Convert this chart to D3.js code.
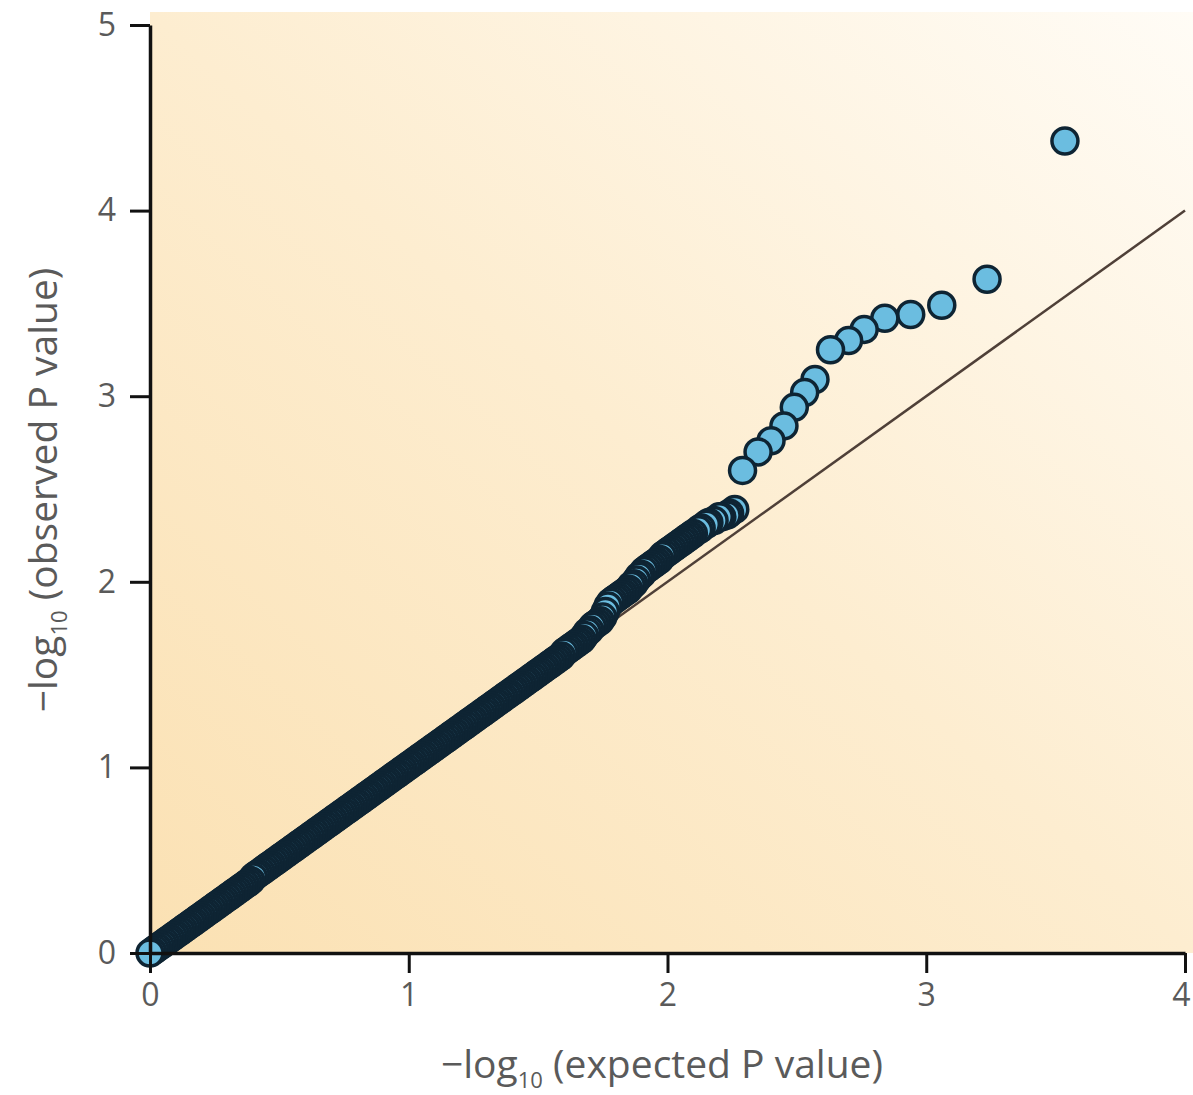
<!doctype html>
<html>
  <head>
    <meta charset="utf-8">
    <title>QQ plot</title>
    <script src="https://cdnjs.cloudflare.com/ajax/libs/d3/7.8.5/d3.min.js"></script>
    <style>
      body { margin: 0; background: #fff; }
      text { font-family: "Open Sans", "DejaVu Sans", sans-serif; }
    </style>
  </head>
  <body>
    <div id="root"></div>
    <script>
      // dense part of the QQ band
      let bulkExpected = [
        0.00, 0.01, 0.02, 0.03, 0.04, 0.05, 0.06, 0.07, 0.08, 0.09,
        0.10, 0.11, 0.12, 0.13, 0.14, 0.15, 0.16, 0.17, 0.18, 0.19,
        0.20, 0.21, 0.22, 0.23, 0.24, 0.25, 0.26, 0.27, 0.28, 0.29,
        0.30, 0.31, 0.32, 0.33, 0.34, 0.35, 0.36, 0.37, 0.38, 0.39,
        0.40, 0.41, 0.42, 0.43, 0.44, 0.45, 0.46, 0.47, 0.48, 0.49,
        0.50, 0.51, 0.52, 0.53, 0.54, 0.55, 0.56, 0.57, 0.58, 0.59,
        0.60, 0.61, 0.62, 0.63, 0.64, 0.65, 0.66, 0.67, 0.68, 0.69,
        0.70, 0.71, 0.72, 0.73, 0.74, 0.75, 0.76, 0.77, 0.78, 0.79,
        0.80, 0.81, 0.82, 0.83, 0.84, 0.85, 0.86, 0.87, 0.88, 0.89,
        0.90, 0.91, 0.92, 0.93, 0.94, 0.95, 0.96, 0.97, 0.98, 0.99,
        1.00, 1.01, 1.02, 1.03, 1.04, 1.05, 1.06, 1.07, 1.08, 1.09,
        1.10, 1.11, 1.12, 1.13, 1.14, 1.15, 1.16, 1.17, 1.18, 1.19,
        1.20, 1.21, 1.22, 1.23, 1.24, 1.25, 1.26, 1.27, 1.28, 1.29,
        1.30, 1.31, 1.32, 1.33, 1.34, 1.35, 1.36, 1.37, 1.38, 1.39,
        1.40, 1.41, 1.42, 1.43, 1.44, 1.45, 1.46, 1.47, 1.48, 1.49,
        1.50, 1.51, 1.52, 1.53, 1.54, 1.55, 1.56, 1.57, 1.58, 1.59,
        1.60, 1.61, 1.62, 1.63, 1.64, 1.65, 1.66, 1.67, 1.68, 1.69,
        1.70
      ];
      let bulkObserved = [
        0.00, 0.01, 0.02, 0.03, 0.04, 0.05, 0.06, 0.07, 0.08, 0.09,
        0.10, 0.11, 0.12, 0.13, 0.14, 0.15, 0.16, 0.17, 0.18, 0.19,
        0.20, 0.21, 0.22, 0.23, 0.24, 0.25, 0.26, 0.27, 0.28, 0.29,
        0.30, 0.31, 0.32, 0.33, 0.34, 0.35, 0.36, 0.37, 0.38, 0.39,
        0.41, 0.42, 0.43, 0.44, 0.45, 0.46, 0.47, 0.48, 0.49, 0.50,
        0.51, 0.52, 0.53, 0.54, 0.55, 0.56, 0.57, 0.58, 0.59, 0.60,
        0.61, 0.62, 0.63, 0.64, 0.65, 0.66, 0.67, 0.68, 0.69, 0.70,
        0.71, 0.72, 0.73, 0.74, 0.75, 0.76, 0.77, 0.78, 0.79, 0.80,
        0.81, 0.82, 0.83, 0.84, 0.85, 0.86, 0.87, 0.88, 0.89, 0.90,
        0.91, 0.92, 0.93, 0.94, 0.95, 0.96, 0.97, 0.98, 0.99, 1.00,
        1.01, 1.02, 1.03, 1.04, 1.05, 1.06, 1.07, 1.08, 1.09, 1.10,
        1.11, 1.12, 1.13, 1.14, 1.15, 1.16, 1.17, 1.18, 1.19, 1.20,
        1.21, 1.22, 1.23, 1.24, 1.25, 1.26, 1.27, 1.28, 1.29, 1.30,
        1.31, 1.32, 1.33, 1.34, 1.35, 1.36, 1.37, 1.38, 1.39, 1.40,
        1.41, 1.42, 1.43, 1.44, 1.45, 1.46, 1.47, 1.48, 1.49, 1.50,
        1.51, 1.52, 1.53, 1.54, 1.55, 1.56, 1.57, 1.58, 1.59, 1.60,
        1.62, 1.63, 1.64, 1.65, 1.66, 1.67, 1.68, 1.69, 1.71, 1.73,
        1.74
      ];

      // upper tail, where points start to separate
      let tailExpected = [
        1.71, 1.72, 1.73, 1.74, 1.75, 1.76, 1.77, 1.78, 1.79, 1.80,
        1.81, 1.82, 1.83, 1.84, 1.85, 1.86, 1.87, 1.88, 1.89, 1.90,
        1.91, 1.92, 1.93, 1.94, 1.95, 1.96, 1.97, 1.98, 1.99, 2.00,
        2.01, 2.02, 2.03, 2.04, 2.05, 2.06, 2.07, 2.08, 2.09, 2.10,
        2.12, 2.13, 2.15, 2.16, 2.18, 2.20, 2.21, 2.23, 2.24, 2.26,
        2.29, 2.35, 2.40, 2.45, 2.49, 2.53, 2.57, 2.63, 2.70, 2.76,
        2.84, 2.94, 3.06, 3.235, 3.536
      ];
      let tailObserved = [
        1.76, 1.77, 1.78, 1.79, 1.81, 1.84, 1.87, 1.89, 1.90, 1.91,
        1.92, 1.93, 1.94, 1.95, 1.96, 1.98, 1.99, 2.01, 2.03, 2.04,
        2.06, 2.07, 2.08, 2.09, 2.10, 2.11, 2.12, 2.14, 2.15, 2.16,
        2.17, 2.18, 2.19, 2.20, 2.21, 2.22, 2.23, 2.24, 2.25, 2.26,
        2.28, 2.29, 2.31, 2.32, 2.33, 2.35, 2.35, 2.36, 2.37, 2.39,
        2.60, 2.70, 2.76, 2.84, 2.94, 3.02, 3.09, 3.25, 3.30, 3.36,
        3.42, 3.44, 3.49, 3.63, 4.375
      ];

      let xTicks = [0, 1, 2, 3, 4],
          yTicks = [0, 1, 2, 3, 4, 5];

      let width = 1193, height = 1095;

      let points = bulkExpected.map((e, i) => ({e: e, o: bulkObserved[i]}))
        .concat(tailExpected.map((e, i) => ({e: e, o: tailObserved[i]})));
      // draw from the top end down so the lowest point sits on top
      points.sort((a, b) => b.e - a.e);

      let svg = d3.select('#root')
        .append('svg')
        .attr('width', width)
        .attr('height', height);

      let xScale = d3.scaleLinear().domain([0, 4]).range([150, 1185]);
      let yScale = d3.scaleLinear().domain([0, 5]).range([953, 25]);

      // warm background fading to white toward the top right
      let grad = svg.append('defs').append('linearGradient')
        .attr('id', 'bg')
        .attr('x1', 0).attr('y1', 1)
        .attr('x2', 1).attr('y2', 0);
      grad.append('stop').attr('offset', 0).attr('stop-color', '#fbe1b3');
      grad.append('stop').attr('offset', 0.5).attr('stop-color', '#fdedd0');
      grad.append('stop').attr('offset', 1).attr('stop-color', '#fffcf6');

      svg.append('rect')
        .attr('x', xScale(0))
        .attr('y', 12)
        .attr('width', width - xScale(0))
        .attr('height', yScale(0) - 12)
        .attr('fill', 'url(#bg)');

      // reference line y = x
      svg.append('line')
        .attr('x1', xScale(0)).attr('y1', yScale(0))
        .attr('x2', xScale(4)).attr('y2', yScale(4))
        .attr('stroke', '#4f4038')
        .attr('stroke-width', 2.5);

      svg.append('g')
        .selectAll('circle')
        .data(points)
        .enter()
        .append('circle')
        .attr('cx', d => xScale(d.e))
        .attr('cy', d => yScale(d.o))
        .attr('r', 13)
        .attr('fill', '#6bbde0')
        .attr('stroke', '#0e2433')
        .attr('stroke-width', 3.5);

      let xAxis = d3.axisBottom(xScale)
        .tickValues(xTicks)
        .tickFormat(d3.format('d'))
        .tickSize(20)
        .tickSizeOuter(0)
        .tickPadding(10);
      let yAxis = d3.axisLeft(yScale)
        .tickValues(yTicks)
        .tickFormat(d3.format('d'))
        .tickSize(20)
        .tickSizeOuter(0)
        .tickPadding(14);

      let gx = svg.append('g')
        .attr('transform', 'translate(0,' + yScale(0) + ')')
        .call(xAxis);
      let gy = svg.append('g')
        .attr('transform', 'translate(' + xScale(0) + ',0)')
        .call(yAxis);

      [gx, gy].forEach(g => {
        g.select('.domain').attr('stroke', '#111').attr('stroke-width', 3.5);
        g.selectAll('.tick line').attr('stroke', '#111').attr('stroke-width', 3);
        g.selectAll('.tick text')
          .attr('fill', '#5a5a5a')
          .attr('font-size', 32)
          .attr('font-family', '"Open Sans", sans-serif');
      });
      // keep the last x label inside the page
      gx.selectAll('.tick text').filter(d => d === 4).attr('dx', -4);

      // axis titles with subscript 10
      let xTitle = svg.append('text')
        .attr('x', 662)
        .attr('y', 1078)
        .attr('text-anchor', 'middle')
        .attr('fill', '#5a5a5a')
        .attr('font-size', 39);
      xTitle.append('tspan').text('\u2212log');
      xTitle.append('tspan').attr('font-size', 22).attr('dy', 10).text('10');
      xTitle.append('tspan').attr('dy', -10).text(' (expected P value)');

      let yTitle = svg.append('text')
        .attr('transform', 'translate(57,490) rotate(-90)')
        .attr('text-anchor', 'middle')
        .attr('fill', '#5a5a5a')
        .attr('font-size', 39);
      yTitle.append('tspan').text('\u2212log');
      yTitle.append('tspan').attr('font-size', 22).attr('dy', 10).text('10');
      yTitle.append('tspan').attr('dy', -10).text(' (observed P value)');
    </script>
  </body>
</html>
